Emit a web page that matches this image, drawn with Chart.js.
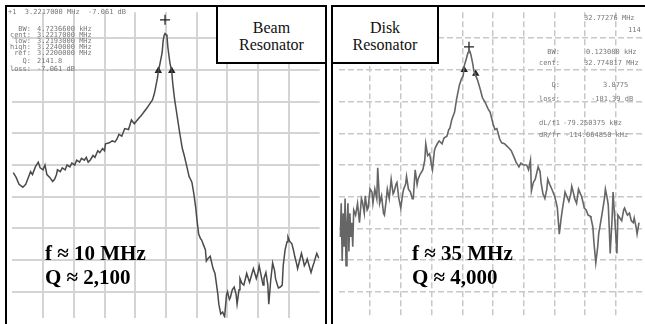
<!DOCTYPE html>
<html>
<head>
<meta charset="utf-8">
<script src="https://cdn.jsdelivr.net/npm/chart.js@4.4.1/dist/chart.umd.min.js"></script>
<style>
    body { margin: 0; width: 645px; height: 324px; overflow: hidden; background: #fff; position: relative; }
    .plot { position: absolute; top: 6px; width: 320px; height: 318px; }
    .frame { position: absolute; box-sizing: border-box; border: 2px solid #000; border-bottom: none; }
    .tag { position: absolute; box-sizing: border-box; border: 2px solid #000; background: #fff; text-align: center; font-family: 'Liberation Serif', 'DejaVu Serif', serif; font-size: 16px; line-height: 17px; padding-top: 12px; color: #111; }
    .note { position: absolute; font-family: 'Liberation Serif', 'DejaVu Serif', serif; font-weight: bold; font-size: 21px; line-height: 24px; color: #000; white-space: nowrap; }
    .readout { position: absolute; font-family: 'DejaVu Sans Mono', monospace; font-size: 7px; line-height: 7px; color: #777; white-space: pre; }
</style>
</head>
<body>
<div class="plot" style="left:6px"><canvas id="beam-chart"></canvas></div>
<div class="plot" style="left:333px"><canvas id="disk-chart"></canvas></div>

<div class="frame" style="left:5px;top:5px;width:322px;height:330px"></div>
<div class="frame" style="left:331px;top:5px;width:330px;height:330px;border-right:none"></div>

<div class="tag" style="left:216px;top:5px;width:111px;height:59px">Beam<br>Resonator</div>
<div class="tag" style="left:331px;top:5px;width:108px;height:59px">Disk<br>Resonator</div>

<div class="note" style="left:45px;top:241px">f ≈ 10 MHz<br>Q ≈ 2,100</div>
<div class="note" style="left:412px;top:241px">f ≈ 35 MHz<br>Q ≈ 4,000</div>

<script>
// sweep point index (one per trace point) and level in dB
const beamPoint = [1, 4, 7, 11, 14, 16, 19, 21, 24, 27, 29, 32, 34, 36, 39, 42, 44, 46, 47, 50, 52, 55, 57, 60, 62, 65, 67, 70, 72, 75, 77, 79, 81, 84, 86, 89, 91, 94, 96, 97,
    101, 104, 107, 109, 111, 114, 117, 121, 124, 127, 131, 134, 137, 140, 142, 144, 146, 148, 149, 151, 152, 154, 156, 157, 158, 159, 160, 161, 162, 164, 166, 167, 169, 171, 174, 177, 179, 182, 184, 186,
    187, 189, 191, 192, 194, 196, 197, 199, 201, 202, 204, 206, 209, 211, 212, 214, 215, 217, 219, 221, 223, 224, 226, 227, 229, 231, 233, 234, 236, 237, 239, 241, 243, 244, 246, 247, 249, 251, 253, 254,
    256, 257, 259, 261, 262, 264, 266, 267, 269, 271, 273, 274, 276, 277, 279, 281, 282, 284, 286, 287, 289, 291, 293, 294, 296, 297, 299, 301, 303, 304, 306, 307, 309, 311, 313, 314, 316, 317, 319];
const beamLevel = [-52.4, -53.9, -56.1, -57.0, -56.1, -54.5, -52.1, -53.0, -50.6, -49.1, -50.9, -51.5, -50.0, -53.0, -53.9, -55.2, -54.5, -53.0, -51.5, -52.1, -50.9, -51.5, -50.0, -50.6, -49.4, -50.0, -48.5, -49.1, -47.9, -48.5, -47.6, -49.1, -48.5, -47.0, -47.6, -45.5, -46.1, -44.8, -45.5, -43.3,
    -43.0, -42.4, -42.7, -41.8, -40.3, -40.9, -38.5, -38.8, -35.8, -37.0, -35.5, -34.5, -33.3, -32.1, -31.2, -30.3, -29.4, -27.3, -25.8, -22.7, -20.6, -17.6, -14.5, -10.9, -9.1, -8.5, -8.8, -9.4, -13.0, -17.6, -20.6, -24.2, -29.4, -33.3, -39.4, -44.8, -47.0, -50.9, -53.6, -54.8,
    -55.5, -59.1, -63.6, -66.7, -71.8, -73.3, -73.6, -75.2, -76.7, -80.3, -79.4, -78.8, -82.7, -84.2, -86.4, -90.9, -93.9, -97.0, -96.4, -97.9, -90.9, -90.0, -92.4, -91.8, -89.4, -88.5, -90.9, -93.9, -89.4, -85.8, -87.3, -87.9, -85.5, -84.2, -86.1, -87.0, -84.8, -82.7, -84.8, -85.8,
    -83.6, -81.8, -84.8, -87.9, -85.8, -83.9, -87.9, -93.9, -86.4, -80.9, -83.3, -85.8, -87.9, -88.8, -88.5, -87.9, -81.8, -76.7, -74.2, -72.7, -74.2, -74.8, -77.3, -78.8, -81.2, -82.7, -80.3, -77.9, -80.3, -81.8, -80.6, -79.7, -81.8, -83.9, -81.8, -80.9, -78.8, -77.9, -79.4];

const diskPoint = [1, 2, 3, 4, 5, 6, 7, 8, 9, 10, 11, 12, 13, 14, 15, 17, 19, 21, 23, 24, 26, 27, 29, 30, 32, 34, 35, 37, 39, 40, 42, 44, 46, 47, 49, 50, 52, 54, 56, 57,
    59, 60, 62, 64, 66, 67, 69, 70, 72, 74, 76, 77, 79, 81, 82, 84, 87, 89, 90, 92, 94, 96, 97, 99, 100, 102, 104, 107, 109, 112, 114, 115, 117, 120, 122, 125, 127, 129, 130, 132,
    134, 135, 136, 137, 139, 140, 142, 144, 147, 149, 152, 155, 157, 160, 162, 164, 167, 169, 172, 174, 177, 179, 182, 184, 187, 189, 192, 195, 197, 199, 200, 202, 204, 207, 209, 210, 212, 214, 216, 217,
    219, 220, 222, 224, 226, 227, 229, 231, 232, 234, 235, 237, 239, 241, 242, 244, 245, 247, 249, 251, 252, 254, 255, 257, 259, 261, 262, 264, 265, 267, 269, 270, 272, 274, 276, 277, 279, 280, 281, 282,
    284, 285, 287, 289, 290, 292, 294, 296, 297, 299, 300, 302, 304, 306, 307, 309, 310, 312];
const diskLevel = [-72.7, -62.1, -80.3, -65.2, -75.8, -60.6, -81.8, -68.2, -62.1, -77.3, -65.2, -72.7, -68.2, -75.8, -64.2, -65.8, -62.1, -68.2, -60.6, -61.5, -65.2, -59.7, -64.2, -63.6, -57.6, -58.5, -62.1, -57.6, -60.6, -50.9, -62.1, -59.7, -65.2, -65.8, -60.6, -57.6, -60.6, -54.5, -59.1, -58.5,
    -56.1, -55.5, -60.6, -63.6, -59.1, -57.6, -56.1, -53.6, -57.6, -58.5, -60.6, -60.6, -51.5, -56.1, -54.5, -53.0, -51.5, -48.5, -43.3, -47.0, -46.4, -50.0, -51.5, -45.5, -44.5, -43.3, -42.4, -43.3, -41.5, -40.9, -38.8, -38.5, -35.8, -33.3, -29.4, -24.8, -23.0, -21.8, -18.8, -16.7,
    -14.5, -13.6, -14.2, -15.2, -18.2, -20.3, -21.8, -23.3, -26.4, -28.8, -30.3, -32.4, -33.3, -37.0, -38.8, -38.5, -41.8, -43.0, -43.3, -43.9, -44.8, -45.5, -47.6, -49.1, -50.6, -49.4, -50.0, -50.0, -51.5, -48.5, -58.2, -55.5, -54.5, -50.6, -52.1, -55.5, -59.1, -60.6, -57.6, -54.5,
    -56.1, -56.7, -58.2, -59.7, -62.1, -63.6, -71.8, -66.7, -64.5, -60.6, -58.5, -60.0, -61.5, -59.1, -56.7, -59.1, -60.6, -62.1, -57.6, -59.1, -59.7, -62.1, -63.6, -64.2, -65.8, -66.1, -66.7, -69.7, -74.2, -80.9, -75.8, -71.8, -68.2, -64.5, -60.6, -57.6, -60.6, -62.7, -69.7, -77.9,
    -66.7, -58.5, -68.2, -77.9, -65.8, -66.7, -67.6, -64.2, -63.6, -65.2, -65.8, -65.2, -67.6, -68.2, -66.7, -69.7, -71.8, -68.2];

// analyzer markers: peak cross, then the two -3 dB triangles
const beamMarkPoint = [159, 152, 166];
const beamMarkLevel = [-4.2, -20.3, -20.3];
const diskMarkPoint = [135, 130, 142];
const diskMarkLevel = [-12.7, -20.0, -21.2];
const markStyles = ['cross', 'triangle', 'triangle'];

// graticule: 10 divisions of 32 points across, 10 dB per division down
const gridPoints = [32, 64, 96, 128, 160, 192, 224, 256, 288];
const gridLevels = [-90, -80, -70, -60, -50, -40, -30, -20, -10];

// on-screen marker readouts
const beamHeader = '+1  3.2217000 MHz  -7.061 dB';
const beamReadLabels = ['BW:', 'cent:', 'low:', 'high:', 'ref:', 'Q:', 'loss:'];
const beamReadValues = ['4.7236600 kHz', '3.2217000 MHz', '3.2193000 MHz', '3.2240000 MHz', '3.2200000 MHz', '2141.8', '-7.061 dB'];
const diskReadLabels = ['', '', 'BW:', 'cent:', 'Q:', 'loss:', 'dL/f1', 'dR/fr'];
const diskReadValues = ['32.77276 MHz', '114', '0.123080 kHz', '32.774817 MHz', '3.8775', '-181.39 dB', '-79.250375 kHz', '-114.064850 kHz'];

function placeText(cls, left, top, text, extra) {
    const d = document.createElement('div');
    d.className = cls; d.textContent = text;
    d.style.left = left + 'px'; d.style.top = top + 'px';
    if (extra) Object.assign(d.style, extra);
    document.body.appendChild(d);
}

placeText('readout', 8, 9, beamHeader);
const beamRowTop = [26, 32, 38, 44, 50, 58, 66];
beamReadLabels.forEach((lbl, i) => {
    placeText('readout', 4, beamRowTop[i], lbl, { width: '27px', textAlign: 'right' });
    placeText('readout', 37, beamRowTop[i], beamReadValues[i]);
});
const diskRowTop = [15, 27, 49, 60, 82, 96, 120, 132];
const diskValueLeft = [584, 628, 586, 584, 603, 591, 563, 565];
diskReadLabels.forEach((lbl, i) => {
    if (lbl) placeText('readout', 520, diskRowTop[i], lbl, { width: '40px', textAlign: 'right' });
    placeText('readout', diskValueLeft[i], diskRowTop[i], diskReadValues[i]);
});

function buildAnalyzerChart(id, points, levels, markPoints, markLevels, traceColor, traceWidth, gridColor, gridDash, gridWidth) {
    const ctx = document.getElementById(id).getContext('2d');
    const axis = (ticks) => ({
        type: 'linear', display: true,
        ticks: { display: false },
        grid: { color: gridColor, lineWidth: gridWidth, drawTicks: false },
        border: { display: false, dash: gridDash },
        afterBuildTicks: s => { s.ticks = ticks.map(v => ({ value: v })); }
    });
    const xAxis = axis(gridPoints); xAxis.min = 0; xAxis.max = 320;
    const yAxis = axis(gridLevels); yAxis.min = -98.18; yAxis.max = -1.82;
    return new Chart(ctx, {
        type: 'line',
        data: {
            datasets: [
                { data: points.map((p, i) => ({ x: p, y: levels[i] })), borderColor: traceColor, borderWidth: traceWidth, pointRadius: 0, tension: 0 },
                { data: markPoints.map((p, i) => ({ x: p, y: markLevels[i] })), showLine: false, pointStyle: markStyles, pointRadius: [5, 3, 3],
                  borderColor: '#222', backgroundColor: '#222', borderWidth: 1.3 }
            ]
        },
        options: {
            responsive: true, maintainAspectRatio: false, animation: false,
            layout: { padding: 0 },
            scales: { x: xAxis, y: yAxis },
            plugins: { legend: { display: false }, tooltip: { enabled: false } }
        }
    });
}

buildAnalyzerChart('beam-chart', beamPoint, beamLevel, beamMarkPoint, beamMarkLevel, '#4a4a4a', 1.5, '#d4d4d4', [], 2);
buildAnalyzerChart('disk-chart', diskPoint, diskLevel, diskMarkPoint, diskMarkLevel, '#666666', 1.6, '#c8c8c8', [6, 3], 1.5);
</script>
</body>
</html>
